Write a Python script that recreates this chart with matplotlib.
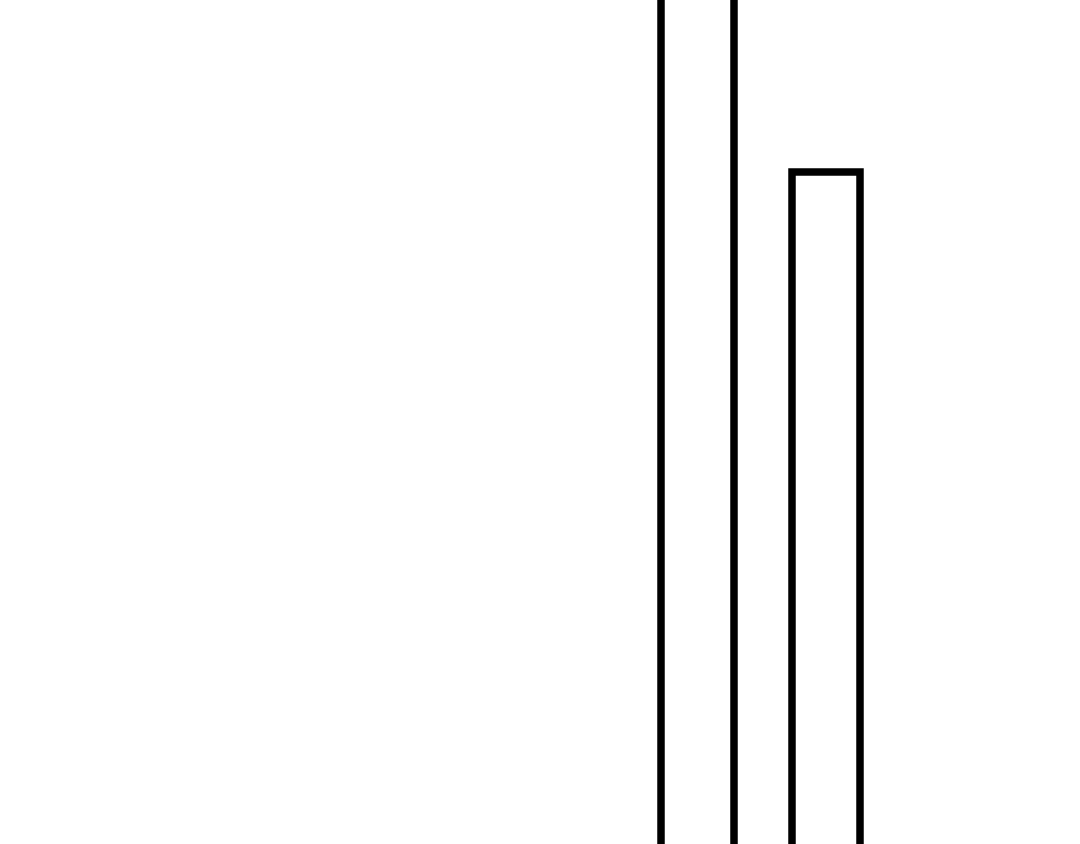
import matplotlib
matplotlib.use("Agg")
import matplotlib.pyplot as plt

categories = ["A", "B"]
values = [120, 80]
widths = [0.571, 0.528]
positions = [0, 1]

fig = plt.figure(figsize=(10.8, 8.44), dpi=100)
ax = fig.add_axes([0, 0, 1, 1])
bars = ax.bar(positions, values, width=widths, facecolor="white",
              edgecolor="black", linewidth=5.4)
for b in bars:
    b.set_joinstyle("miter")
ax.set_xlim(-5.416, 2.973)
ax.set_ylim(10, 97.92)
ax.axis("off")
fig.savefig("out.png", dpi=100)
